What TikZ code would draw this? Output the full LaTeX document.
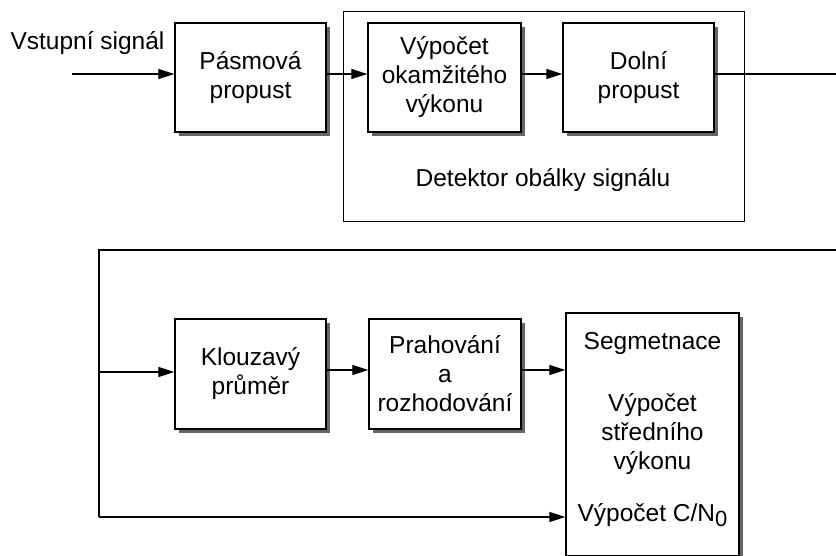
\documentclass[tikz,border=0pt]{standalone}
\usepackage{fontspec}
\setmainfont{Liberation Sans}
\usetikzlibrary{arrows.meta,shadows}
\begin{document}
\begin{tikzpicture}[x=1pt,y=-1pt,
  every node/.style={font=\fontsize{24.5}{29}\selectfont, align=center},
  blk/.style={draw, line width=1.3pt, fill=white, inner sep=0pt,
    drop shadow={shadow xshift=4pt, shadow yshift=-4pt, fill=black!60, opacity=1}},
  conn/.style={line width=1.2pt},
  arr/.style={conn, -{Triangle[length=16pt,width=10pt]}}]
\useasboundingbox (0,0) rectangle (836,556);
\begin{scope}
\clip (0,0) rectangle (836,556);
% container
\node[draw, line width=1.3pt, minimum width=401pt, minimum height=210pt, anchor=north west] (env) at (343,11) {};
\node (envlbl) at (543,180) {Detektor obálky signálu};
% top row
\node[blk, minimum width=151pt, minimum height=109pt] (bp) at (250.5,77.5) {Pásmová\\propust};
\node[blk, minimum width=153pt, minimum height=109pt] (pw) at (444.5,77.5) {Výpočet\\okamžitého\\výkonu};
\node[blk, minimum width=151pt, minimum height=109pt] (lp) at (638.5,77.5) {Dolní\\propust};
\node[anchor=base west] (in) at (7,50) {Vstupní signál};
\coordinate (inS) at (72,74);
\coordinate (outE) at (836,74);
% bottom row
\node[blk, minimum width=151pt, minimum height=110pt] (ma) at (250.5,374) {Klouzavý\\průměr};
\node[blk, minimum width=152pt, minimum height=110pt] (th) at (445,374) {Prahování\\a\\rozhodování};
\node[blk, minimum width=173pt, minimum height=243pt] (seg) at (652.5,434.5) {};
\node (segA) at (652.5,343) {Segmetnace};
\node (segB) at (652.5,434) {Výpočet\\středního\\výkonu};
\node (segC) at (652.5,515) {Výpočet C/N\raisebox{-0.35ex}{\fontsize{22}{22}\selectfont 0}};
\coordinate (fbR) at (836,250);
\coordinate (fbL) at (99,250);
\coordinate (fbM) at (99,372);
\coordinate (fbB) at (99,517);
% connectors
\draw[arr] (inS) -- (bp.west |- inS);
\draw[arr] (bp.east |- inS) -- (pw.west |- inS);
\draw[arr] (pw.east |- inS) -- (lp.west |- inS);
\draw[conn] (lp.east |- outE) -- (outE);
\draw[conn] (fbR) -- (fbL) -- (fbB);
\draw[arr] (fbM) -- (ma.west |- fbM);
\draw[arr] (ma.east |- 0,370) -- (th.west |- 0,370);
\draw[arr] (th.east |- 0,370) -- (seg.west |- 0,370);
\draw[arr] (fbB) -- (seg.west |- fbB);
\end{scope}
\end{tikzpicture}
\end{document}
